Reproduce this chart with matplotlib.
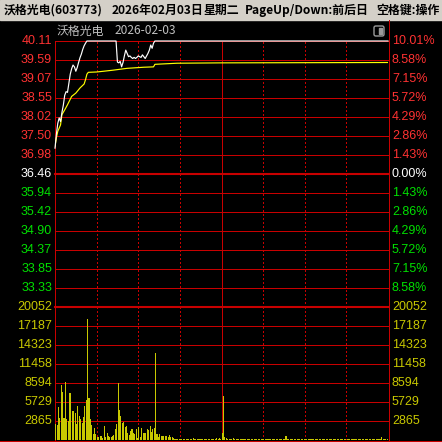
import numpy as np
import matplotlib
matplotlib.use("Agg")
import matplotlib.pyplot as plt
from matplotlib.patches import Rectangle, FancyBboxPatch
from matplotlib.transforms import offset_copy

plt.rcParams['font.family'] = ['Noto Sans CJK SC', 'DejaVu Sans']

# stock / header info
name = "沃格光电"
code = "603773"
date_cn = "2026年02月03日"
weekday = "星期二"
date_iso = "2026-02-03"
hint_keys = "PageUp/Down:前后日"
hint_space = "空格键:操作"
pre_close = 36.46

# axis labels
price_ticks = [40.11, 39.59, 39.07, 38.55, 38.02, 37.50, 36.98,
               36.46, 35.94, 35.42, 34.90, 34.37, 33.85, 33.33]
pct_labels = ["10.01%", "8.58%", "7.15%", "5.72%", "4.29%", "2.86%", "1.43%",
              "0.00%", "1.43%", "2.86%", "4.29%", "5.72%", "7.15%", "8.58%"]
price_floor = 32.81
vol_ticks = [20052, 17187, 14323, 11458, 8594, 5729, 2865]

# minute price (minutes after 9:30, trading minutes)
price_min = [0, 1, 2, 3, 4, 5, 6, 7, 8, 9, 10, 11, 12, 13, 14, 15, 16, 17, 18, 19,
             20, 21, 22, 23, 44, 45, 46, 47, 48, 49, 50, 51, 52, 53, 54, 55, 56, 57,
             58, 59, 60, 61, 62, 63, 64, 65, 66, 67, 68, 69, 70, 71, 72, 240]
price_val = [37.17, 37.55, 37.85, 38.00, 37.90, 38.15, 38.35, 38.62, 38.72, 38.70,
             38.95, 39.20, 39.35, 39.45, 39.40, 39.28, 39.38, 39.52, 39.65, 39.75,
             39.88, 39.98, 40.05, 40.11, 40.11, 39.53, 39.51, 39.55, 39.40, 39.52,
             39.70, 39.86, 39.77, 39.68, 39.70, 39.66, 39.63, 39.66, 39.63, 39.66,
             39.70, 39.68, 39.66, 39.73, 39.68, 39.63, 39.70, 39.77, 39.86, 40.00,
             39.91, 40.05, 40.11, 40.11]

# average price line
avg_min = [0, 1, 2, 4, 5, 7, 9, 12, 15, 18, 21, 22, 23, 24, 30, 35, 42, 52, 64,
           71, 72, 88, 120, 240]
avg_val = [37.22, 37.45, 37.63, 37.81, 38.09, 38.22, 38.36, 38.59, 38.68, 38.82,
           38.93, 39.05, 39.20, 39.25, 39.26, 39.28, 39.31, 39.36, 39.39, 39.40,
           39.47, 39.50, 39.51, 39.52]

# volume per minute (240 minutes)
volume = [
    2413, 2262, 5027, 3318, 8294, 7289, 3318, 8797, 3117, 2865, 7037, 7037, 4373, 4373, 4021,
    2413, 5127, 3619, 3117, 2614, 3518, 5127, 6032, 18200, 6333, 3117, 2262, 905, 1760, 905,
    503, 503, 600, 600, 300, 2110, 500, 1000, 600, 500, 500, 600, 700, 1610, 2413,
    8640, 4524, 3620, 2514, 2765, 1910, 2110, 1000, 750, 1400, 1610, 1100, 905, 1660, 300,
    1910, 500, 1760, 1100, 1100, 1100, 1660, 1510, 2110, 1250, 1610, 1760, 13170, 905, 500,
    905, 600, 600, 600, 600, 600, 500, 750, 400, 400, 300, 200, 150, 200, 150,
    150, 200, 150, 150, 200, 150, 150, 150, 200, 300, 150, 150, 200, 150, 150,
    150, 200, 150, 150, 150, 200, 150, 150, 150, 200, 150, 350, 150, 250, 150,
    1100, 6680, 400, 250, 150, 200, 150, 150, 300, 150, 150, 200, 150, 150, 150,
    200, 150, 150, 150, 200, 150, 150, 150, 150, 200, 150, 150, 150, 200, 150,
    150, 150, 200, 150, 150, 150, 150, 200, 150, 150, 150, 200, 150, 150, 150,
    150, 600, 150, 150, 200, 150, 150, 150, 150, 200, 150, 150, 150, 150, 150,
    150, 150, 200, 150, 150, 150, 150, 200, 150, 150, 150, 150, 150, 200, 150,
    150, 150, 150, 150, 200, 150, 150, 150, 150, 150, 200, 150, 150, 150, 150,
    150, 200, 150, 150, 150, 150, 200, 150, 150, 150, 150, 150, 200, 150, 150,
    150, 150, 150, 200, 150, 150, 150, 150, 150, 150, 500, 150, 150, 200, 150,
]

RED = '#ff3232'
GREEN = '#00e000'
YEL = '#c8c800'
GRID = '#c80000'

W = H = 442
fig = plt.figure(figsize=(4.42, 4.42), dpi=100, facecolor='black')


def fx(px):
    return px / W


def fy(py):
    return 1 - py / H


# title bar
fig.patches.append(Rectangle((0, fy(20)), 1, 20 / H, transform=fig.transFigure,
                             color='#d4d0c8', zorder=0))
title_parts = [(f"{name}({code})", 4), (date_cn, 112), (weekday, 204),
               (hint_keys, 245), (hint_space, 376)]
for txt, x in title_parts:
    fig.text(fx(x), fy(10), txt, color='black', fontsize=8.6, fontweight='bold',
             va='center', ha='left')

fig.text(fx(57), fy(31), name, color='#c0c0c0', fontsize=8.6, va='center')
fig.text(fx(115), fy(31), date_iso, color='#c0c0c0', fontsize=8.6, va='center')

# small toggle icon
fig.patches.append(FancyBboxPatch((fx(374), fy(36)), fx(10), 10 / H,
                                  boxstyle='round,pad=0,rounding_size=0.004',
                                  transform=fig.transFigure, fill=False,
                                  edgecolor='#9a9a9a', lw=1))
fig.patches.append(Rectangle((fx(379), fy(34)), fx(3), 6 / H, transform=fig.transFigure,
                             color='#9a9a9a'))

# axes: price on top, volume below
ax1 = fig.add_axes([fx(55), fy(307), fx(333), (307 - 41) / H])
ax2 = fig.add_axes([fx(55), fy(440), fx(333), (440 - 307) / H])
for ax in (ax1, ax2):
    ax.set_facecolor('black')
    ax.set_xlim(0, 240)
    ax.set_xticks([])
    ax.set_yticks([])
    for s in ax.spines.values():
        s.set_visible(False)
    for m in (30, 60, 90, 150, 180, 210):
        ax.axvline(m, color=GRID, lw=0.72, ls=(0, (1.4, 2.8)), zorder=1,
                   antialiased=False)
    ax.axvline(120, color=GRID, lw=0.72, zorder=1)
    ax.axvline(0, color=GRID, lw=0.72, zorder=1, clip_on=False)

ax1.set_ylim(price_floor, price_ticks[0])
ax2.set_ylim(0, vol_ticks[0])

for p in price_ticks:
    ax1.axhline(p, color=GRID, lw=1.5 if p == pre_close else 0.72, zorder=1, clip_on=False)
for v in vol_ticks:
    ax2.axhline(v, color=GRID, lw=1.5 if v == vol_ticks[0] else 0.72, zorder=1, clip_on=False)

# lines and bars
ax1.plot(price_min, price_val, color='white', lw=0.85, zorder=4, clip_on=False)
ax1.plot(avg_min, avg_val, color='#ffff00', lw=0.85, zorder=3)
ax2.bar(np.arange(len(volume)) + 0.5, volume, width=0.75, color=YEL,
        antialiased=False, zorder=2)

# labels
lab_font = dict(family=['Liberation Sans', 'DejaVu Sans'], fontsize=9, va='center')
left1 = offset_copy(ax1.get_yaxis_transform(), fig=fig, x=-3, y=0, units='dots')
right1 = offset_copy(ax1.get_yaxis_transform(), fig=fig, x=4, y=0, units='dots')
left2 = offset_copy(ax2.get_yaxis_transform(), fig=fig, x=-3, y=0, units='dots')
right2 = offset_copy(ax2.get_yaxis_transform(), fig=fig, x=4, y=0, units='dots')
for p, pct in zip(price_ticks, pct_labels):
    c = RED if p > pre_close else ('white' if p == pre_close else GREEN)
    ax1.text(0, p, f"{p:.2f}", transform=left1, ha='right', color=c, **lab_font)
    ax1.text(1, p, pct, transform=right1, ha='left', color=c, **lab_font)
for v in vol_ticks:
    ax2.text(0, v, str(v), transform=left2, ha='right', color=YEL, **lab_font)
    ax2.text(1, v, str(v), transform=right2, ha='left', color=YEL, **lab_font)

# frame lines around the chart body
fig.add_artist(plt.Line2D([fx(388.5), fx(388.5)], [0, fy(20)], color=GRID, lw=0.72,
                          transform=fig.transFigure))
fig.add_artist(plt.Line2D([0, 1], [fy(440.5), fy(440.5)], color=GRID, lw=0.72,
                          transform=fig.transFigure))

fig.savefig("out.png", dpi=100, facecolor='black')
